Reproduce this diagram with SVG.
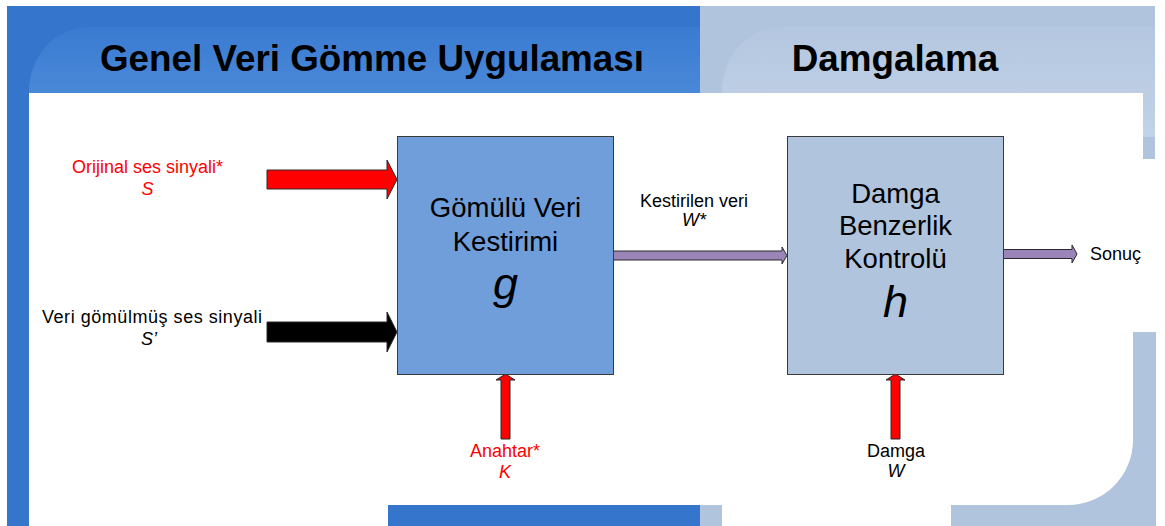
<svg xmlns="http://www.w3.org/2000/svg" width="1165" height="526" viewBox="0 0 1165 526">
  <defs>
    <linearGradient id="blueSheen" x1="0" y1="0" x2="0" y2="1">
      <stop offset="0" stop-color="#3a7bd1"/>
      <stop offset="1" stop-color="#4a88d8"/>
    </linearGradient>
    <linearGradient id="graySheen" x1="0" y1="0" x2="0" y2="1">
      <stop offset="0" stop-color="#b4c7e0"/>
      <stop offset="1" stop-color="#c2d2e7"/>
    </linearGradient>
    <style>
      .sans { font-family: "Liberation Sans", Arial, sans-serif; }
      .title { font-size: 36.8px; font-weight: bold; fill: #000; text-anchor: middle; }
      .boxtxt { font-size: 27.5px; fill: #000; text-anchor: middle; }
      .sym { font-size: 45px; font-style: italic; fill: #000; text-anchor: middle; }
      .lbl { font-size: 18px; text-anchor: middle; }
      .red { fill: #ff0000; }
      .blk { fill: #000; }
      .it { font-style: italic; }
      .node { stroke: #3a3a3a; stroke-width: 1; }
      .arr { stroke: #2a2a2a; stroke-width: 1; stroke-linejoin: miter; }
    </style>
  </defs>

  <rect width="1165" height="526" fill="#ffffff"/>

  <!-- frame: header band and side bars -->
  <g id="frame">
    <rect x="7" y="6" width="693" height="87" fill="#3575cc"/>
    <rect x="7" y="6" width="22" height="520" fill="#3575cc"/>
    <path d="M29,93 C29,55 55,27 92,27 H700 V93 Z" fill="url(#blueSheen)"/>
    <rect x="700" y="6" width="455" height="87" fill="#b0c4de"/>
    <rect x="1143" y="93" width="12" height="66" fill="#b0c4de"/>
    <path d="M722,93 C722,55 748,27 785,27 H1155 V137 H1143 V93 Z" fill="url(#graySheen)"/>
    <rect x="388" y="505" width="312" height="21" fill="#3575cc"/>
    <rect x="700" y="505" width="22" height="21" fill="#b0c4de"/>
    <path d="M1133,332 H1156 V526 H951 V505 H1068 A65,65 0 0 0 1133,440 Z" fill="#b0c4de"/>
  </g>

  <g id="titles" class="sans">
    <text class="title" x="372" y="71">Genel Veri Gömme Uygulaması</text>
    <text class="title" x="895" y="71">Damgalama</text>
  </g>

  <!-- connectors -->
  <g id="connectors">
    <polygon class="arr" fill="#ff0000" points="267,170 387,170 387,160 397,179.5 387,199 387,189 267,189"/>
    <polygon class="arr" fill="#000000" points="267,322 387,322 387,312 397,332 387,352 387,342 267,342"/>
    <polygon class="arr" fill="#9a84b8" points="613,251 782,251 782,247 787,255.5 782,264 782,260 613,260"/>
    <polygon class="arr" fill="#9a84b8" points="1003,249.5 1072,249.5 1072,245 1077,254 1072,263 1072,258.5 1003,258.5"/>
    <polygon class="arr" fill="#ff0000" points="501,439 501,380 496,380 505.5,374 515,380 510,380 510,439"/>
    <polygon class="arr" fill="#ff0000" points="891,439 891,380 886,380 895.5,374 905,380 900,380 900,439"/>
  </g>

  <g id="node-g">
    <rect class="node" x="397.5" y="136.5" width="216" height="238" fill="#6f9edb"/>
    <text class="sans boxtxt" x="505.5" y="217">Gömülü Veri</text>
    <text class="sans boxtxt" x="505.5" y="251">Kestirimi</text>
    <text class="sans sym" x="505.5" y="299">g</text>
  </g>

  <g id="node-h">
    <rect class="node" x="787.5" y="136.5" width="216" height="238" fill="#b0c4de"/>
    <text class="sans boxtxt" x="895.5" y="203">Damga</text>
    <text class="sans boxtxt" x="895.5" y="235">Benzerlik</text>
    <text class="sans boxtxt" x="895.5" y="268">Kontrolü</text>
    <text class="sans sym" x="895.5" y="317">h</text>
  </g>

  <g id="label-original" class="sans lbl red">
    <text x="147.5" y="173">Orijinal ses sinyali*</text>
    <text class="it" x="147.5" y="195">S</text>
  </g>

  <g id="label-marked" class="sans lbl blk">
    <text x="152" y="323" textLength="220" lengthAdjust="spacing">Veri gömülmüş ses sinyali</text>
    <text class="it" x="149" y="345">S’</text>
  </g>

  <g id="label-estimate" class="sans lbl blk">
    <text x="694" y="207">Kestirilen veri</text>
    <text class="it" x="694" y="226">W*</text>
  </g>

  <g id="label-key" class="sans lbl red">
    <text x="505" y="457">Anahtar*</text>
    <text class="it" x="505" y="478">K</text>
  </g>

  <g id="label-mark" class="sans lbl blk">
    <text x="896" y="457">Damga</text>
    <text class="it" x="896" y="477">W</text>
  </g>

  <g id="label-result" class="sans">
    <text class="lbl blk" x="1090" y="260" style="text-anchor: start">Sonuç</text>
  </g>
</svg>
